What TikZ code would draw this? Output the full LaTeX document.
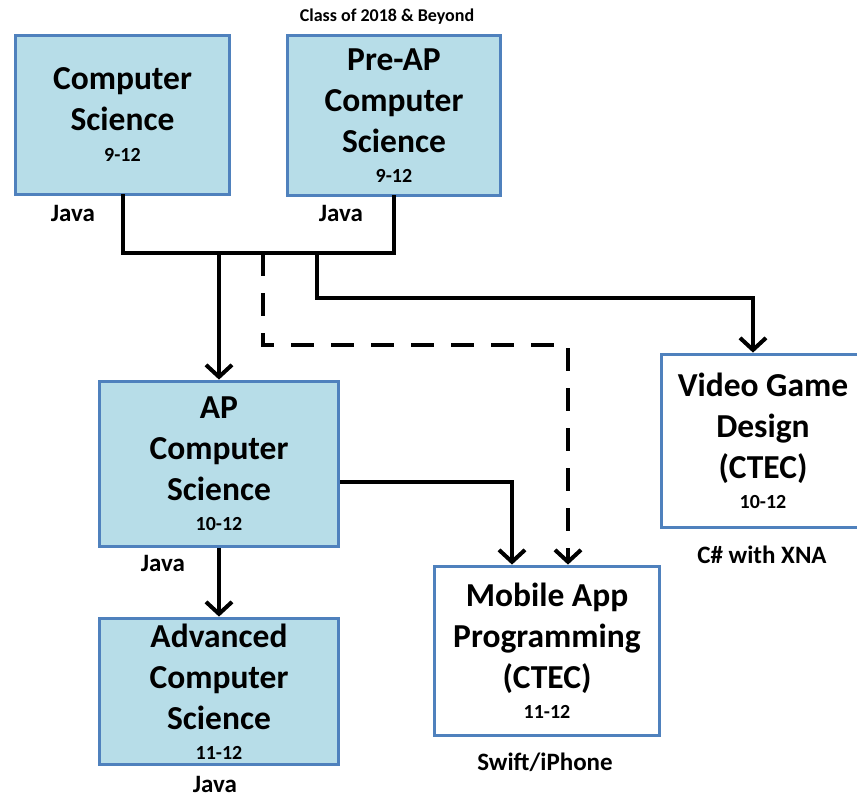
\documentclass[tikz,border=0pt]{standalone}
\usepackage{fontspec}
\setmainfont{Carlito}
\usetikzlibrary{arrows.meta}
\definecolor{boxfill}{HTML}{B7DDE8}
\definecolor{boxline}{HTML}{4F81BD}
\newcommand\yrsfont{\fontsize{20}{22}\selectfont}
\begin{document}
\begin{tikzpicture}[x=1pt,y=-1pt,
  course/.style={draw=boxline, line width=3.8pt, align=center, inner sep=0pt,
    font=\fontsize{33.5}{41}\selectfont\bfseries},
  bluebox/.style={course, fill=boxfill},
  whitebox/.style={course, fill=white},
  lang/.style={font=\fontsize{25}{28}\selectfont\bfseries, inner sep=0pt},
  conn/.style={line width=4pt, -{Straight Barb[length=12pt,width=26pt,line width=4pt]}},
  link/.style={line width=4pt, line cap=rect},
  dashlink/.style={conn, dash pattern=on 23pt off 17pt}
]
\useasboundingbox (0,0) rectangle (857,798);
\clip (0,0) rectangle (857,798);

% boxes
\node[bluebox, minimum width=214pt, minimum height=159pt] (cs) at (122.5,115)
  {Computer\\Science\\[-10pt]{\yrsfont 9-12}};
\node[bluebox, minimum width=213pt, minimum height=160pt] (pre) at (394,115.5)
  {Pre-AP\\Computer\\Science\\[-11pt]{\yrsfont 9-12}};
\node[bluebox, minimum width=239pt, minimum height=165pt] (ap) at (219,464)
  {AP\\Computer\\Science\\[-11pt]{\yrsfont 10-12}};
\node[bluebox, minimum width=239pt, minimum height=146pt] (adv) at (219,691.5)
  {Advanced\\Computer\\Science\\[-11pt]{\yrsfont 11-12}};
\node[whitebox, minimum width=225pt, minimum height=169pt] (mob) at (547,651)
  {Mobile App\\Programming\\(CTEC)\\[-11pt]{\yrsfont 11-12}};
\node[whitebox, minimum width=203pt, minimum height=173pt] (vgd) at (763,441)
  {Video Game\\Design\\(CTEC)\\[-11pt]{\yrsfont 10-12}};

% labels
\node[font=\fontsize{18}{20}\selectfont\bfseries, inner sep=0pt] (cls) at (387,17) {Class of 2018 \& Beyond};
\node[lang] (j1) at (73,213) {Java};
\node[lang] (j2) at (341,213) {Java};
\node[lang] (j3) at (163,563) {Java};
\node[lang] (j4) at (215,784) {Java};
\node[lang] (xna) at (762,555) {C\# with XNA};
\node[lang] (swift) at (545,762) {Swift/iPhone};

% junction coordinates
\coordinate (bar) at (219,253);
\coordinate (dsh) at (263,253);
\coordinate (vbr) at (317,253);
\coordinate (dtop) at (568,345);
\coordinate (vtop) at (753,298);
\coordinate (mbr) at (512,482);

% connectors
\draw[link] (cs.south) |- (bar) -| (pre.south);
\draw[conn] (bar) -- (ap.north);
\draw[dashlink] (dsh) |- (dtop) -- (dtop |- mob.north);
\draw[conn] (vbr) |- (vtop) -- (vtop |- vgd.north);
\draw[conn] (ap.east |- mbr) -| (mbr |- mob.north);
\draw[conn] (ap.south) -- (adv.north);
\end{tikzpicture}
\end{document}
